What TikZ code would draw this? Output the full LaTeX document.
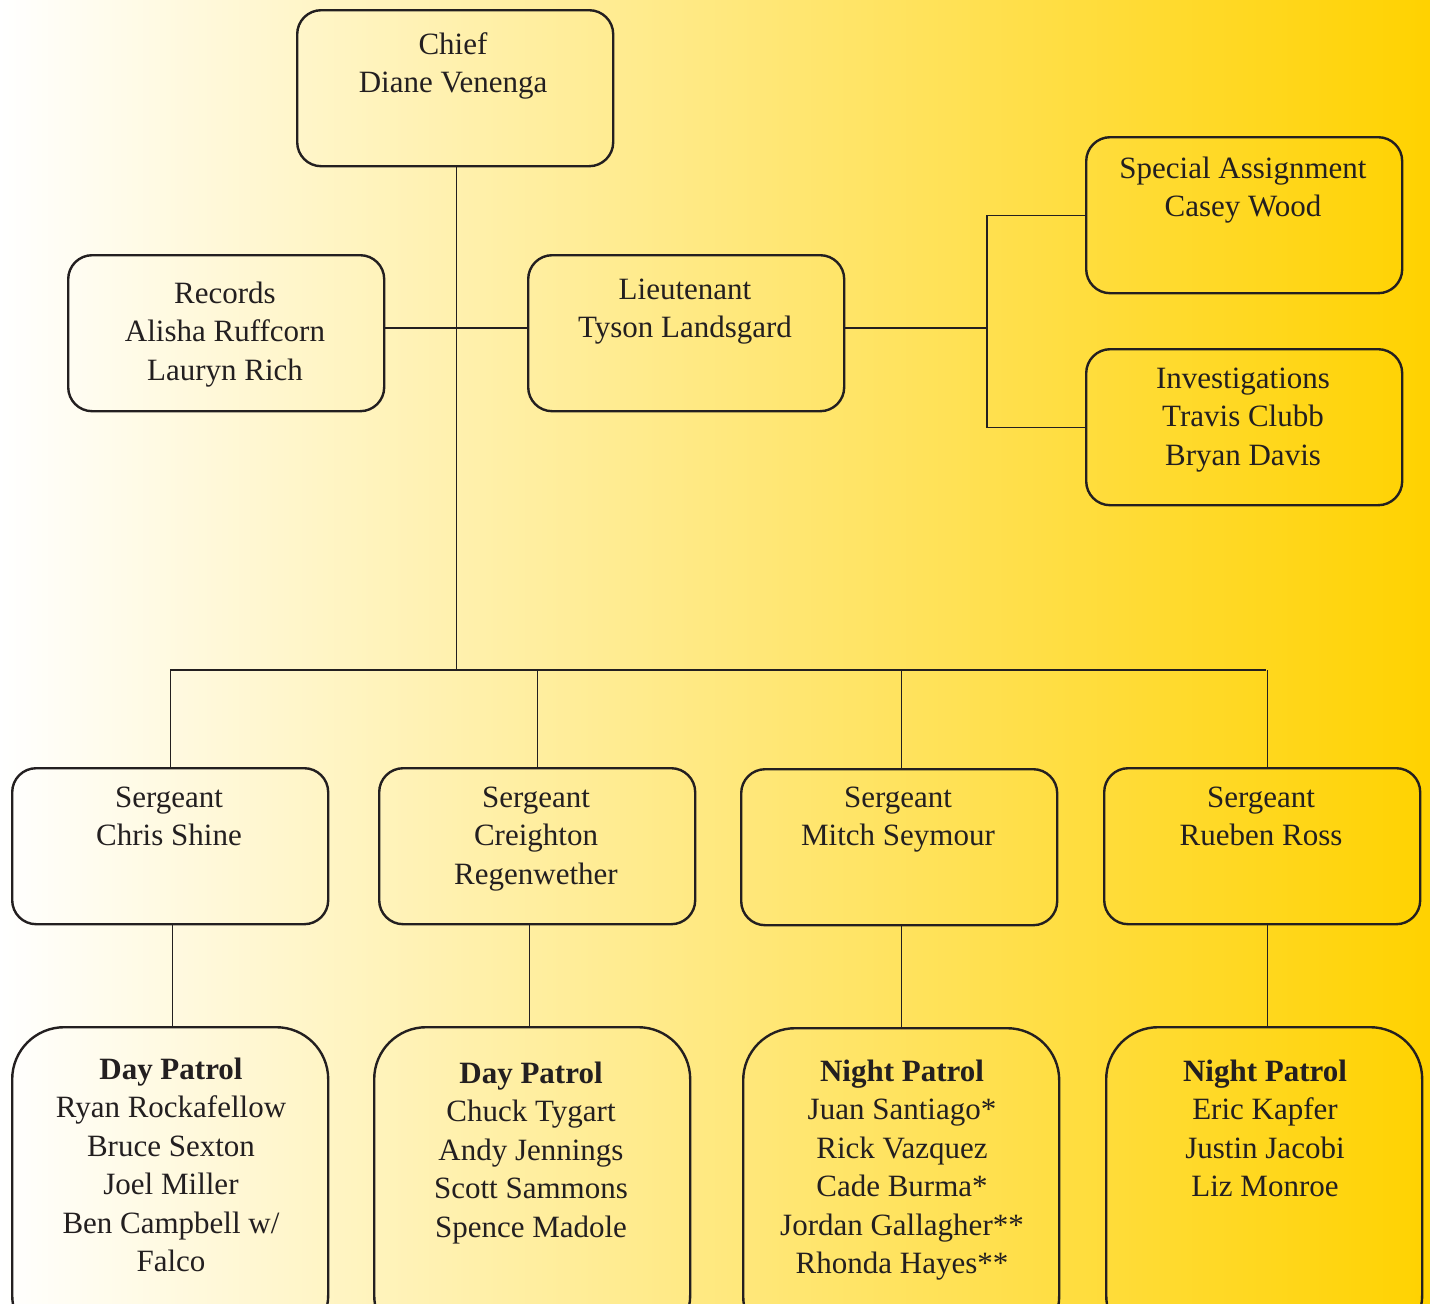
\documentclass[tikz,border=0pt]{standalone}
\usepackage{fontspec}
\setmainfont{Liberation Serif}
\definecolor{ink}{HTML}{231F20}
\definecolor{gold}{HTML}{FFD200}
\begin{document}
\begin{tikzpicture}[x=1pt,y=-1pt,
  box/.style={draw=ink, line width=2.4pt, rounded corners=24pt, minimum width=316pt, minimum height=156pt, anchor=north west, inner sep=0pt},
  pbox/.style={draw=ink, line width=2.4pt, rounded corners=52pt, minimum width=316pt, minimum height=320pt, anchor=north west, inner sep=0pt},
  txt/.style={anchor=north, align=center, inner sep=0pt, text=ink, font=\fontsize{31}{38.5}\selectfont},
  conn/.style={draw=ink, line width=1.3pt}]
\useasboundingbox (0,0) rectangle (1430,1304);
\clip (0,0) rectangle (1430,1304);
\shade[left color=white, right color=gold] (0,0) rectangle (1430,1304);

% boxes
\node[box] (chief) at (296,9) {};
\node[box] (rec) at (67,254) {};
\node[box] (lt) at (527,254) {};
\node[box] (sa) at (1085,136) {};
\node[box] (inv) at (1085,348) {};
\node[box] (sg1) at (11,767) {};
\node[box] (sg2) at (378,767) {};
\node[box] (sg3) at (740,768) {};
\node[box] (sg4) at (1103,767) {};
\node[pbox] (p1) at (11,1026) {};
\node[pbox] (p2) at (373,1026) {};
\node[pbox] (p3) at (742,1027) {};
\node[pbox] (p4) at (1105,1026) {};

% texts
\node[txt] (tchief) at (453,32) {\rule{0pt}{22pt}Chief\\Diane Venenga};
\node[txt] (trec) at (225,281) {\rule{0pt}{22pt}Records\\Alisha Ruffcorn\\Lauryn Rich};
\node[txt] (tlt) at (685,277) {\rule{0pt}{22pt}Lieutenant\\Tyson Landsgard};
\node[txt] (tsa) at (1243,156) {\rule{0pt}{22pt}Special Assignment\\Casey Wood};
\node[txt] (tinv) at (1243,366) {\rule{0pt}{22pt}Investigations\\Travis Clubb\\Bryan Davis};
\node[txt] (tsg1) at (169,785) {\rule{0pt}{22pt}Sergeant\\Chris Shine};
\node[txt] (tsg2) at (536,785) {\rule{0pt}{22pt}Sergeant\\Creighton\\Regenwether};
\node[txt] (tsg3) at (898,785) {\rule{0pt}{22pt}Sergeant\\Mitch Seymour};
\node[txt] (tsg4) at (1261,785) {\rule{0pt}{22pt}Sergeant\\Rueben Ross};
\node[txt] (tp1) at (171,1057) {\rule{0pt}{22pt}\textbf{Day Patrol}\\Ryan Rockafellow\\Bruce Sexton\\Joel Miller\\Ben Campbell w/\\Falco};
\node[txt] (tp2) at (531,1061) {\rule{0pt}{22pt}\textbf{Day Patrol}\\Chuck Tygart\\Andy Jennings\\Scott Sammons\\Spence Madole};
\node[txt] (tp3) at (902,1059) {\rule{0pt}{22pt}\textbf{Night Patrol}\\Juan Santiago*\\Rick Vazquez\\Cade Burma*\\Jordan Gallagher**\\Rhonda Hayes**};
\node[txt] (tp4) at (1265,1059) {\rule{0pt}{22pt}\textbf{Night Patrol}\\Eric Kapfer\\Justin Jacobi\\Liz Monroe};

% connectors
\coordinate (busL) at (170,670);
\coordinate (busR) at (1266,670);
\coordinate (fork) at (987,328);
\draw[conn] ([xshift=1.5pt]chief.south) -- ([xshift=1.5pt]chief.south |- busL);
\draw[conn] (busL) -- (busR);
\draw[conn] (rec.east |- fork) -- (lt.west |- fork);
\draw[conn] (lt.east |- fork) -- (fork);
\draw[conn] (sa.west) -- (sa.west -| fork) -- (inv.west -| fork) -- (inv.west);
\draw[conn] (sg1.north) -- (sg1.north |- busL);
\draw[conn] (sg2.north) -- (sg2.north |- busL);
\draw[conn] ([xshift=2pt]sg3.north) -- ([xshift=2pt]sg3.north |- busL);
\draw[conn] ([xshift=5pt]sg4.north) -- ([xshift=5pt]sg4.north |- busL);
\draw[conn] ([xshift=2pt]p1.north) -- ([xshift=2pt]p1.north |- sg1.south);
\draw[conn] ([xshift=-3pt]p2.north) -- ([xshift=-3pt]p2.north |- sg2.south);
\draw[conn] (p3.north) -- (p3.north |- sg3.south);
\draw[conn] ([xshift=3pt]p4.north) -- ([xshift=3pt]p4.north |- sg4.south);
\end{tikzpicture}
\end{document}
